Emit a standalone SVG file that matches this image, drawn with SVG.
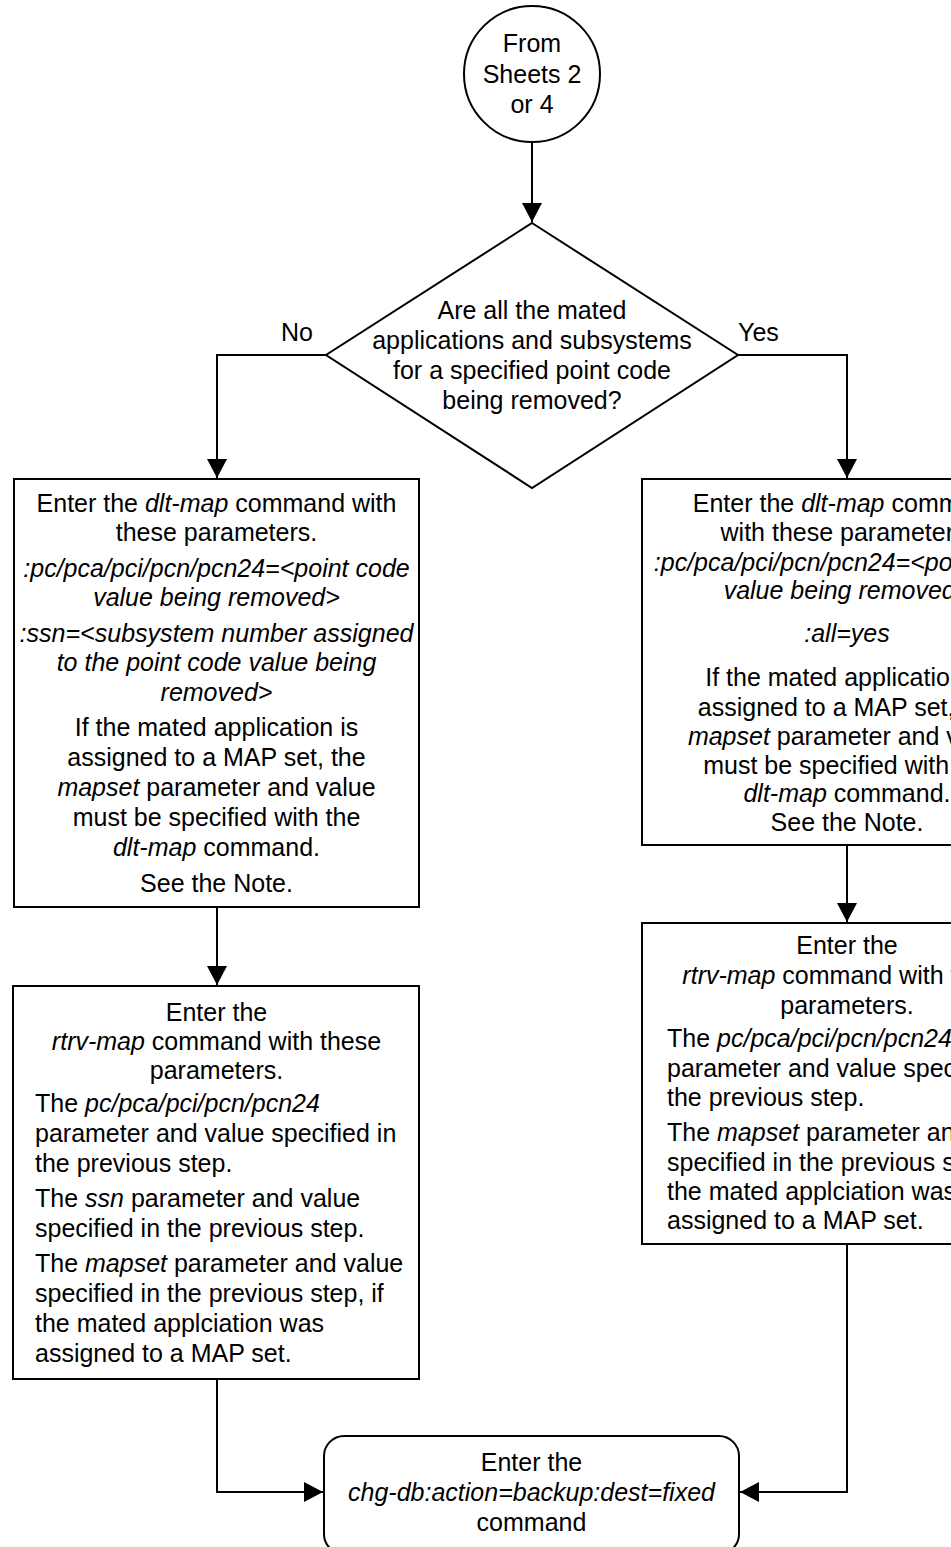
<svg xmlns="http://www.w3.org/2000/svg" width="951" height="1547" viewBox="0 0 951 1547">
<style>
text{font-family:"Liberation Sans",Arial,sans-serif;font-size:25px;fill:#000}
.c{text-anchor:middle}
.i{font-style:italic}
.shape{fill:#fff;stroke:#000;stroke-width:2}
.conn{fill:none;stroke:#000;stroke-width:2}
</style>
<defs>
<marker id="arr" markerUnits="userSpaceOnUse" markerWidth="20" markerHeight="20" refX="19" refY="10" orient="auto">
<path d="M0,0 L19,10 L0,20 z" fill="#000"/>
</marker>
</defs>
<rect width="951" height="1547" fill="#fff"/>
<g id="connectors">
<path class="conn" d="M532,142 V222" marker-end="url(#arr)"/>
<path class="conn" d="M326,355 H217 V478" marker-end="url(#arr)"/>
<path class="conn" d="M738,355 H847 V478" marker-end="url(#arr)"/>
<path class="conn" d="M217,907 V985" marker-end="url(#arr)"/>
<path class="conn" d="M847,845 V922" marker-end="url(#arr)"/>
<path class="conn" d="M217,1379 V1492 H323" marker-end="url(#arr)"/>
<path class="conn" d="M847,1244 V1492 H740" marker-end="url(#arr)"/>
<text x="297" y="341" class="c">No</text>
<text x="738" y="341">Yes</text>
</g>
<g id="start">
<circle class="shape" cx="532" cy="74" r="68"/>
<text class="c" x="532" y="52">From</text>
<text class="c" x="532" y="83">Sheets 2</text>
<text class="c" x="532" y="113">or 4</text>
</g>
<g id="decision">
<polygon class="shape" points="532,223 738,355 532,488 326,355"/>
<text class="c" x="532" y="319">Are all the mated</text>
<text class="c" x="532" y="349">applications and subsystems</text>
<text class="c" x="532" y="379">for a specified point code</text>
<text class="c" x="532" y="409">being removed?</text>
</g>
<g id="dltmap-no">
<rect class="shape" x="14" y="479" width="405" height="428"/>
<text class="c" x="216.5" y="512">Enter the <tspan class="i">dlt-map</tspan> command with</text>
<text class="c" x="216.5" y="541">these parameters.</text>
<text class="c i" x="216.5" y="577">:pc/pca/pci/pcn/pcn24=&lt;point code</text>
<text class="c i" x="216.5" y="606">value being removed&gt;</text>
<text class="c i" x="216.5" y="642" textLength="394" lengthAdjust="spacingAndGlyphs">:ssn=&lt;subsystem number assigned</text>
<text class="c i" x="216.5" y="671">to the point code value being</text>
<text class="c i" x="216.5" y="701">removed&gt;</text>
<text class="c" x="216.5" y="736">If the mated application is</text>
<text class="c" x="216.5" y="766">assigned to a MAP set, the</text>
<text class="c" x="216.5" y="796"><tspan class="i">mapset</tspan> parameter and value</text>
<text class="c" x="216.5" y="826">must be specified with the</text>
<text class="c" x="216.5" y="856"><tspan class="i">dlt-map</tspan> command.</text>
<text class="c" x="216.5" y="892">See the Note.</text>
</g>
<g id="dltmap-yes">
<rect class="shape" x="642" y="479" width="410" height="366"/>
<text class="c" x="847" y="512">Enter the <tspan class="i">dlt-map</tspan> command</text>
<text class="c" x="847" y="541">with these parameters.</text>
<text class="c i" x="847" y="571">:pc/pca/pci/pcn/pcn24=&lt;point code</text>
<text class="c i" x="847" y="599">value being removed&gt;</text>
<text class="c i" x="847" y="642">:all=yes</text>
<text class="c" x="847" y="686">If the mated application is</text>
<text class="c" x="847" y="716">assigned to a MAP set, the</text>
<text class="c" x="847" y="745"><tspan class="i">mapset</tspan> parameter and value</text>
<text class="c" x="847" y="774">must be specified with the</text>
<text class="c" x="847" y="802"><tspan class="i">dlt-map</tspan> command.</text>
<text class="c" x="847" y="831">See the Note.</text>
</g>
<g id="rtrvmap-no">
<rect class="shape" x="13" y="986" width="406" height="393"/>
<text class="c" x="216.5" y="1021">Enter the</text>
<text class="c" x="216.5" y="1050"><tspan class="i">rtrv-map</tspan> command with these</text>
<text class="c" x="216.5" y="1079">parameters.</text>
<text x="35" y="1112">The <tspan class="i">pc/pca/pci/pcn/pcn24</tspan></text>
<text x="35" y="1142">parameter and value specified in</text>
<text x="35" y="1172">the previous step.</text>
<text x="35" y="1207">The <tspan class="i">ssn</tspan> parameter and value</text>
<text x="35" y="1237">specified in the previous step.</text>
<text x="35" y="1272">The <tspan class="i">mapset</tspan> parameter and value</text>
<text x="35" y="1302">specified in the previous step, if</text>
<text x="35" y="1332">the mated applciation was</text>
<text x="35" y="1362">assigned to a MAP set.</text>
</g>
<g id="rtrvmap-yes">
<rect class="shape" x="642" y="923" width="410" height="321"/>
<text class="c" x="847" y="954">Enter the</text>
<text class="c" x="847" y="984"><tspan class="i">rtrv-map</tspan> command with these</text>
<text class="c" x="847" y="1014">parameters.</text>
<text x="667" y="1047">The <tspan class="i">pc/pca/pci/pcn/pcn24</tspan></text>
<text x="667" y="1077">parameter and value specified in</text>
<text x="667" y="1106">the previous step.</text>
<text x="667" y="1141">The <tspan class="i">mapset</tspan> parameter and value</text>
<text x="667" y="1171">specified in the previous step, if</text>
<text x="667" y="1200">the mated applciation was</text>
<text x="667" y="1229">assigned to a MAP set.</text>
</g>
<g id="chgdb">
<rect class="shape" x="324" y="1436" width="415" height="118" rx="20"/>
<text class="c" x="531.5" y="1471">Enter the</text>
<text class="c i" x="531.5" y="1501">chg-db:action=backup:dest=fixed</text>
<text class="c" x="531.5" y="1531">command</text>
</g>
</svg>
